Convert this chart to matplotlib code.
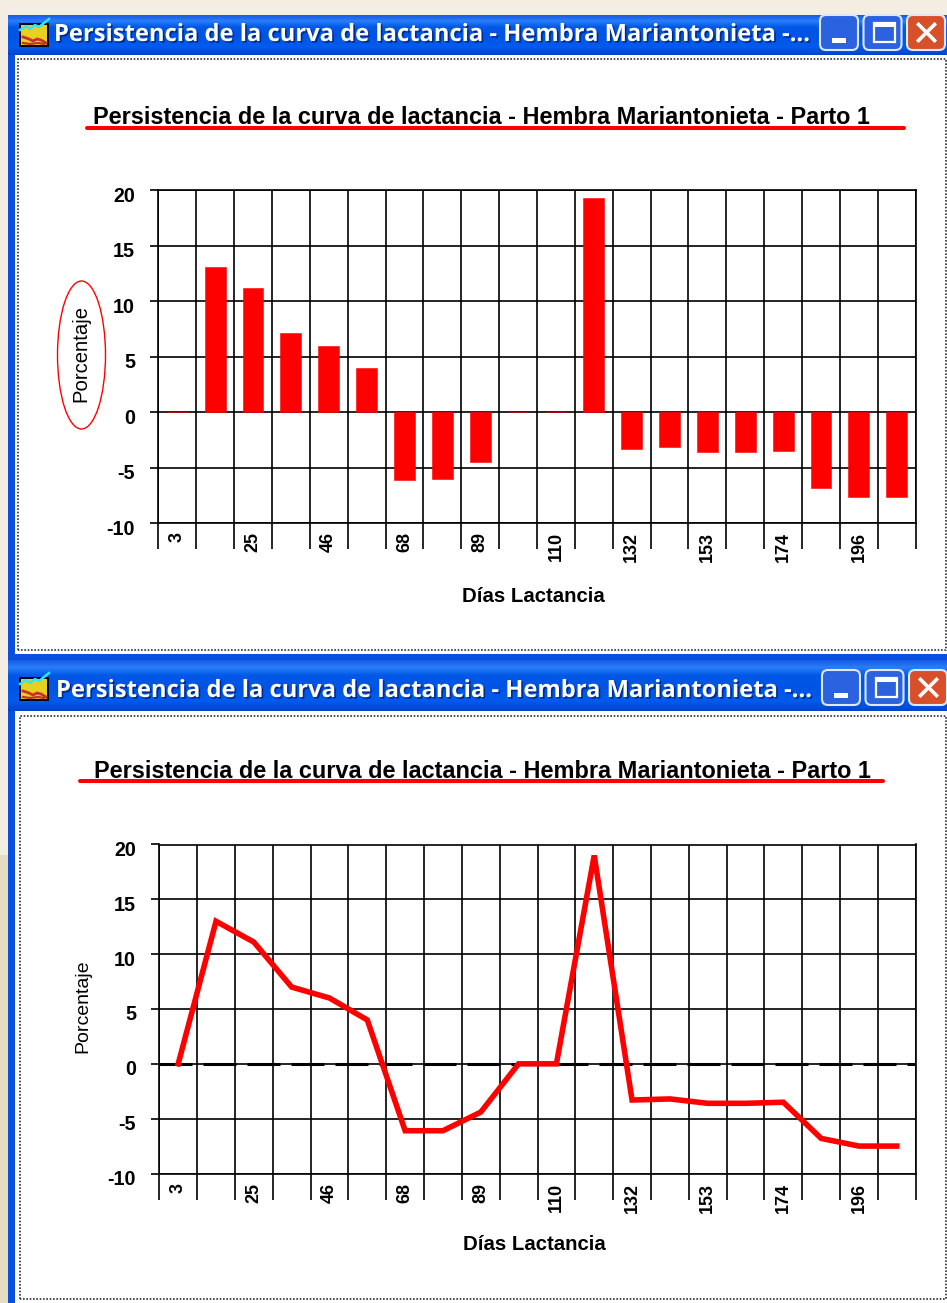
#! python3

import matplotlib
matplotlib.use('Agg')
import matplotlib.pyplot as plt
import matplotlib.patheffects as pe
import matplotlib.transforms as mtrans
from matplotlib.patches import Ellipse, FancyBboxPatch, Rectangle
import numpy as np

W, H = 947, 1303
SANS = ['Liberation Sans', 'DejaVu Sans']

window_title = 'Persistencia de la curva de lactancia - Hembra Mariantonieta -...'
chart_title = 'Persistencia de la curva de lactancia - Hembra Mariantonieta - Parto 1'
x_title = 'Días Lactancia'
y_title = 'Porcentaje'

day_labels = ['3', '', '25', '', '46', '', '68', '', '89', '', '110', '',
              '132', '', '153', '', '174', '', '196', '']
y_ticks = [-10, -5, 0, 5, 10, 15, 20]
y_labels = ['-10', '-5', '0', '5', '10', '15', '20']

bar_values = [0, 13.1, 11.2, 7.1, 6.0, 4.0, -6.1, -6.0, -4.5, 0, 0, 19.3,
              -3.3, -3.1, -3.6, -3.6, -3.5, -6.8, -7.6, -7.6]
line_values = [0, 13.0, 11.1, 7.0, 6.0, 4.0, -6.1, -6.1, -4.4, 0, 0, 19.0,
               -3.3, -3.2, -3.6, -3.6, -3.5, -6.8, -7.5, -7.5]


def px_axes(fig, left, top, right, bottom):
    """Axes placed by pixel edges, measured from the top left."""
    return fig.add_axes([left / W, 1 - bottom / H, (right - left) / W, (bottom - top) / H])


def draw_window(bg, top, bar_bottom, white_bottom, icon_top, text_x, text_y, dot_top, dot_left, dot_bottom, btn_top, btn_left):
    """XP style window: blue frame, title bar, dotted client border."""
    left, inner_left = 8, 15
    bg.add_patch(Rectangle((left, top), W - left, white_bottom + 8 - top, fc='#0a50e0', ec='none', zorder=1))
    bg.add_patch(Rectangle((inner_left, bar_bottom), W - inner_left, white_bottom - bar_bottom,
                           fc='white', ec='none', zorder=2))
    grad = np.array([0.0, 0.14, 0.3, 0.55, 0.8, 1.0])
    colors = np.array([[0.10, 0.36, 0.90], [0.16, 0.50, 0.98], [0.0, 0.34, 0.90],
                       [0.0, 0.33, 0.90], [0.0, 0.36, 0.93], [0.0, 0.27, 0.80]])
    rows = np.stack([np.interp(np.linspace(0, 1, 40), grad, colors[:, i]) for i in range(3)], axis=1)
    bg.imshow(rows[:, None, :], extent=(left, W, bar_bottom, top), aspect='auto', zorder=3)

    # icon
    ix, iy = 20, icon_top
    bg.add_patch(Rectangle((ix, iy + 5), 28, 22, fc='#e8d020', ec='black', lw=1.4, zorder=4))
    bg.plot(np.array([3, 9, 13, 17, 21, 26]) + ix, np.array([18, 20, 22, 20, 21, 24]) + iy, color='#c83030', lw=2, zorder=5)
    bg.plot(np.array([3, 10, 18, 24]) + ix, np.array([24, 25, 24, 25]) + iy, color='#c83030', lw=1.6, zorder=5)
    bg.plot(np.array([0, 6, 10, 15, 19, 24, 29]) + ix, np.array([11, 7, 10, 6, 8, 4, 0]) + iy, color='#30e8f0', lw=1.8, zorder=5)

    # caption
    bg.text(text_x, text_y, window_title, color='white', fontsize=17.1,
            family=['Open Sans', 'DejaVu Sans'], weight='bold', ha='left', va='center', zorder=6,
            path_effects=[pe.withSimplePatchShadow(offset=(1.2, -1.2), shadow_rgbFace='#002a90', alpha=1)])

    # buttons
    for k, fc in enumerate(['#2a62e0', '#2a62e0', '#d8502a']):
        x0 = btn_left + k * 43.5
        bg.add_patch(FancyBboxPatch((x0 + 3, btn_top + 3), 32, 29, boxstyle='round,pad=3,rounding_size=6',
                                    fc=fc, ec='#dfe8fb', lw=1.5, zorder=4))
    bg.add_patch(Rectangle((btn_left + 12, btn_top + 23), 14, 5, fc='white', ec='none', zorder=5))
    bg.add_patch(Rectangle((btn_left + 54, btn_top + 8), 21, 19, fc='none', ec='white', lw=1.6, zorder=5))
    bg.add_patch(Rectangle((btn_left + 54, btn_top + 8), 21, 4, fc='white', ec='none', zorder=5))
    cx, cy = btn_left + 106.5, btn_top + 17.5
    bg.plot([cx - 8, cx + 8], [cy - 8, cy + 8], color='white', lw=2.6, zorder=5)
    bg.plot([cx - 8, cx + 8], [cy + 8, cy - 8], color='white', lw=2.6, zorder=5)

    # dotted client border
    bg.plot([dot_left, dot_left, 946, 946, dot_left], [dot_bottom, dot_top, dot_top, dot_bottom, dot_bottom],
            color='#303030', lw=1.2, ls=(0, (1, 1)), zorder=6)


def draw_axes(fig, left, top, right, zero_bottom, tick_bottom):
    """Chart frame, grid and tick labels shared by both panels."""
    ax = px_axes(fig, left, top, right, zero_bottom)
    ax.patch.set_alpha(0)
    ax.set_xlim(0, 20)
    ax.set_ylim(-10, 20)
    for side in ['left', 'bottom', 'top', 'right']:
        ax.spines[side].set_linewidth(1.2)
    ax.set_xticks(range(21))
    ax.set_xticklabels([])
    ax.set_xticks(np.arange(20) + 0.5, minor=True)
    ax.set_xticklabels(day_labels, minor=True, rotation=90, family=SANS, weight='bold', fontsize=13)
    ax.set_yticks(y_ticks)
    ax.set_yticklabels(y_labels, family=SANS, weight='bold', fontsize=14.2)
    ax.tick_params(axis='x', which='major', length=(tick_bottom - zero_bottom) * 0.72, width=1.2, pad=0)
    ax.tick_params(axis='x', which='minor', length=0, pad=6.5)
    ax.tick_params(axis='y', length=5.8, width=1.2, pad=11)
    shift = mtrans.ScaledTranslation(0, -4 / 100, fig.dpi_scale_trans)
    for lab in ax.get_yticklabels():
        lab.set_transform(lab.get_transform() + shift)
    ax.grid(True, which='major', color='black', lw=1.2)
    ax.set_axisbelow(True)
    return ax


fig = plt.figure(figsize=(W / 100, H / 100), dpi=100, facecolor='#f4ede1')

bg = fig.add_axes([0, 0, 1, 1])
bg.axis('off')
bg.add_patch(Rectangle((0, 855), 8, H - 855, fc='#e6dcc2', ec='none', zorder=0))

draw_window(bg, 15, 55, 654, 19, 54, 35, 59, 18, 650, 15, 820)
draw_window(bg, 660, 711, H, 673, 56, 691, 716, 20, 1299, 670, 822)
bg.set_xlim(0, W)
bg.set_ylim(H, 0)

# top panel
ax1 = draw_axes(fig, 158.3, 190, 915.7, 523.3, 549)
ax1.bar(np.arange(20) + 0.5, bar_values, width=0.55, color='red', edgecolor='red', linewidth=0.4, zorder=3)

# bottom panel
ax2 = draw_axes(fig, 159.3, 844.5, 915.7, 1173.5, 1199.3)
ax2.axhline(0, color='black', lw=2.2, ls=(0, (10.8, 3.6)), zorder=2)
ax2.plot(np.arange(20) + 0.5, line_values, color='red', lw=4.0, solid_joinstyle='miter', zorder=3)

for title_x, title_y, clip_x, line_x0, line_x1, line_y, lab_x, lab_y, lab_size, xlab_x, xlab_y in [
        (481, 117, 94, 87, 904, 128, 81, 354, 14.6, 533, 596),
        (482, 771, 95, 80, 883, 781, 83, 1006, 14, 534, 1245)]:
    t = bg.text(title_x, title_y, chart_title, family=SANS, weight='bold', fontsize=16.9,
                ha='center', va='center', zorder=7)
    t.set_clip_path(Rectangle((clip_x, title_y - 20), 800, 40, transform=bg.transData))
    bg.plot([line_x0, line_x1], [line_y, line_y], color='red', lw=2.9, solid_capstyle='round', zorder=8)
    bg.text(lab_x, lab_y, y_title, family=SANS, fontsize=lab_size, rotation=90, ha='center', va='center', zorder=7)
    bg.text(xlab_x, xlab_y, x_title, family=SANS, weight='bold', fontsize=14.7, ha='center', va='center', zorder=7)

bg.add_patch(Ellipse((81.5, 355), 48, 148, fc='none', ec='red', lw=1.0, zorder=8))

fig.savefig('out.png', dpi=100, facecolor=fig.get_facecolor())
